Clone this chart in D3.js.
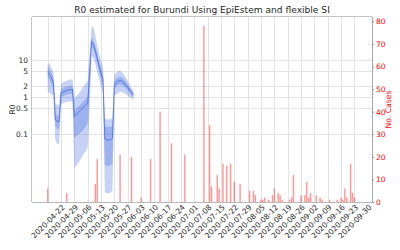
<!DOCTYPE html>
<html><head><meta charset="utf-8">
<script src="https://cdn.jsdelivr.net/npm/d3@7"></script>
<style>body{margin:0;background:#fff}svg{display:block;font-family:"DejaVu Sans",sans-serif}</style>
</head><body><svg id="c" width="400" height="250"></svg>
<script>
// ---- data ----
const titleText = "R0 estimated for Burundi Using EpiEstem and flexible SI";
const rStartDate = "2020-04-22"; // daily estimates from this date
const rMedian = [4.9,4.1,3.3,2.5,0.26,0.22,0.22,1.3,1.38,1.45,1.52,1.58,1.62,1.65,
  0.3,0.34,0.38,0.43,0.49,0.56,0.62,0.7,4,32,26,18,11,7,4.3,3.2,
  0.075,0.072,0.07,0.072,0.078,2.2,2.5,2.75,2.85,2.7,2.45,2.15,1.85,1.55,1.32,1.15];
const rLo50 = [3.5,2.9,2.3,1.7,0.17,0.14,0.14,1.0,1.07,1.12,1.17,1.2,1.22,1.24,
  0.08,0.09,0.1,0.11,0.12,0.14,0.16,0.2,1.8,24,19,13,8,5,3,2.2,
  0.015,0.014,0.014,0.015,0.016,1.7,1.95,2.15,2.25,2.15,1.95,1.75,1.52,1.3,1.12,0.98];
const rHi50 = [6.6,5.6,4.5,3.4,0.38,0.32,0.32,1.65,1.75,1.85,1.95,2.02,2.08,2.12,
  0.45,0.5,0.56,0.62,0.7,0.8,0.9,1.0,7,42,34,24,15,9.5,6,4.5,
  0.16,0.16,0.155,0.16,0.17,2.9,3.2,3.5,3.6,3.4,3.05,2.65,2.25,1.85,1.55,1.35];
const rLo95 = [1.4,1.3,1.2,1.1,0.07,0.055,0.055,0.65,0.7,0.72,0.75,0.77,0.78,0.78,
  0.012,0.014,0.017,0.02,0.025,0.03,0.036,0.045,0.5,13,11,8,4.8,3,1.9,1.3,
  0.0028,0.0026,0.0026,0.0027,0.003,1.1,1.2,1.3,1.4,1.38,1.3,1.2,1.1,1.0,0.92,0.85];
const rHi95 = [8.6,7.6,6.2,4.6,0.7,0.62,0.62,2.3,2.5,2.65,2.8,2.9,3.0,3.05,
  0.95,1.05,1.2,1.4,1.7,2.0,2.4,2.8,16,75,82,45,25,15,9.5,7,
  0.27,0.26,0.25,0.26,0.28,4.0,4.6,5.0,5.2,4.7,4.1,3.4,2.8,2.2,1.75,1.45];

const caseDates = ["2020-04-22","2020-05-02","2020-05-17","2020-05-18","2020-05-30","2020-06-05",
  "2020-06-10","2020-06-15","2020-06-20","2020-06-26","2020-07-03","2020-07-13","2020-07-16",
  "2020-07-17","2020-07-20","2020-07-21","2020-07-23","2020-07-25","2020-07-27","2020-07-29",
  "2020-08-01","2020-08-06","2020-08-08","2020-08-09","2020-08-12","2020-08-13","2020-08-14",
  "2020-08-16","2020-08-18","2020-08-19","2020-08-21","2020-08-22","2020-08-23","2020-08-27",
  "2020-08-28","2020-08-29","2020-09-02","2020-09-04","2020-09-05","2020-09-06","2020-09-07",
  "2020-09-10","2020-09-12","2020-09-13","2020-09-17","2020-09-21","2020-09-23","2020-09-24",
  "2020-09-25","2020-09-26","2020-09-28","2020-09-29","2020-09-30"];
const caseCounts = [6,4,8,19,21,20,2,19,40,26,21,78,34,7,12,6,17,16,17,9,8,5,5,3,1,1,2,1,3,6,4,3,1,1,2,12,
  3,3,9,2,4,3,2,1,1,1,2,1,6,2,17,4,2];

const xTickLabels = ["2020-04-22","2020-04-29","2020-05-06","2020-05-13","2020-05-20","2020-05-27",
  "2020-06-03","2020-06-10","2020-06-17","2020-06-24","2020-07-01","2020-07-08","2020-07-15",
  "2020-07-22","2020-07-29","2020-08-05","2020-08-12","2020-08-19","2020-08-26","2020-09-02",
  "2020-09-09","2020-09-16","2020-09-23","2020-09-30"];
const leftTicks = [10,5,2,1,0.5,0.1];
const leftTickLabels = ["10","5","2","1","0.5","0.1"];
const rightTicks = [0,10,20,30,40,50,60,70,80];
const leftLabel = "R0", rightLabel = "No. Cases";

// ---- chart ----
const svg = d3.select("#c");
const L = 32, R = 372, T = 17, B = 202;
const parse = d3.utcParse("%Y-%m-%d");
const DAY = 864e5;
const start = parse(rStartDate);
const rData = rMedian.map((v,i)=>({d:new Date(+start + i*DAY), m:v, l50:rLo50[i], h50:rHi50[i], l95:rLo95[i], h95:rHi95[i]}));
const cData = caseDates.map((s,i)=>({d:parse(s), v:caseCounts[i]}));

const x = d3.scaleUtc().domain([new Date(+start - 8.24*DAY), new Date(+start + 170.24*DAY)]).range([L,R]);
const yL = d3.scaleLog().domain([0.0015,146]).range([B,T]);
const yR = d3.scaleLinear().domain([0,81.9]).range([B,T]);

svg.append("defs").append("clipPath").attr("id","pc").append("rect")
  .attr("x",L).attr("y",T).attr("width",R-L).attr("height",B-T);

// grid
const g = svg.append("g");
g.selectAll(".vg").data(xTickLabels).join("line")
  .attr("x1",d=>Math.round(x(parse(d)))+0.5).attr("x2",d=>Math.round(x(parse(d)))+0.5)
  .attr("y1",T).attr("y2",B).attr("stroke","#e3e3e3").attr("stroke-width",1);
g.selectAll(".hg").data(leftTicks).join("line")
  .attr("y1",d=>Math.round(yL(d))+0.5).attr("y2",d=>Math.round(yL(d))+0.5)
  .attr("x1",L).attr("x2",R).attr("stroke","#e3e3e3").attr("stroke-width",1);

// R0 bands
const plot = svg.append("g").attr("clip-path","url(#pc)");
const band = (lo,hi)=>d3.area().x(d=>x(d.d)).y0(d=>yL(d[lo])).y1(d=>yL(d[hi]));
plot.append("path").datum(rData).attr("d",band("l95","h95")).attr("fill","#4169e1").attr("fill-opacity",0.3);
plot.append("path").datum(rData).attr("d",band("l50","h50")).attr("fill","#4169e1").attr("fill-opacity",0.3);
plot.append("path").datum(rData).attr("d",d3.line().x(d=>x(d.d)).y(d=>yL(d.m)))
  .attr("fill","none").attr("stroke","#4169e1").attr("stroke-opacity",0.75).attr("stroke-width",1);

// case bars
const bw = x(new Date(+start + 0.75*DAY)) - x(start);
plot.selectAll(".bar").data(cData).join("rect")
  .attr("x",d=>x(d.d)-bw/2).attr("width",bw)
  .attr("y",d=>yR(d.v)).attr("height",d=>yR(0)-yR(d.v))
  .attr("fill","red").attr("fill-opacity",0.42);

// spines
const sp = svg.append("g").attr("stroke","#c4c4c4").attr("stroke-width",1);
sp.append("line").attr("x1",L-0.5).attr("x2",L-0.5).attr("y1",T).attr("y2",B);
sp.append("line").attr("x1",R+0.5).attr("x2",R+0.5).attr("y1",T).attr("y2",B).attr("stroke","#a8a8a8");
sp.append("line").attr("x1",L).attr("x2",R).attr("y1",B+0.5).attr("y2",B+0.5).attr("stroke","#b8b8b8");
sp.append("line").attr("x1",L).attr("x2",R).attr("y1",T-0.5).attr("y2",T-0.5);

// left axis
const ax = svg.append("g").attr("transform",`translate(${L},0)`)
  .call(d3.axisLeft(yL).tickValues(leftTicks).tickFormat((d,i)=>leftTickLabels[i]).tickSize(0).tickPadding(4));
ax.select(".domain").remove();
ax.selectAll("text").attr("font-size",7.5).attr("fill","#262626").attr("font-family","DejaVu Sans");

// right axis
const ar = svg.append("g").attr("transform",`translate(${R},0)`)
  .call(d3.axisRight(yR).tickValues(rightTicks).tickSize(2).tickPadding(2));
ar.select(".domain").remove();
ar.selectAll("line").attr("stroke","#999");
ar.selectAll("text").attr("font-size",7.5).attr("fill","red").attr("font-family","DejaVu Sans");

// bottom axis
const ab = svg.append("g").attr("transform",`translate(0,${B})`)
  .call(d3.axisBottom(x).tickValues(xTickLabels.map(parse)).tickFormat((d,i)=>xTickLabels[i]).tickSize(0));
ab.select(".domain").remove();
ab.selectAll("text").attr("font-size",7.5).attr("fill","#262626").attr("font-family","DejaVu Sans")
  .attr("text-anchor","middle").attr("dy",null).attr("y",null).attr("dominant-baseline","central")
  .each(function(){
    const len = this.getComputedTextLength();
    const half = (len + 7.5*1.16)*0.7071/2;
    d3.select(this).attr("transform",`translate(0,${1+half}) rotate(-45)`);
  });

// labels
svg.append("text").attr("x",(L+R)/2).attr("y",13.3).attr("text-anchor","middle")
  .attr("font-size",9.1).attr("fill","#262626").text(titleText);
svg.append("text").attr("transform",`translate(14.5,${(T+B)/2}) rotate(-90)`).attr("text-anchor","middle")
  .attr("font-size",7.7).attr("fill","#262626").text(leftLabel);
svg.append("text").attr("transform",`translate(390.8,${(T+B)/2}) rotate(-90)`).attr("text-anchor","middle")
  .attr("font-size",7.7).attr("fill","red").text(rightLabel);
</script></body></html>
